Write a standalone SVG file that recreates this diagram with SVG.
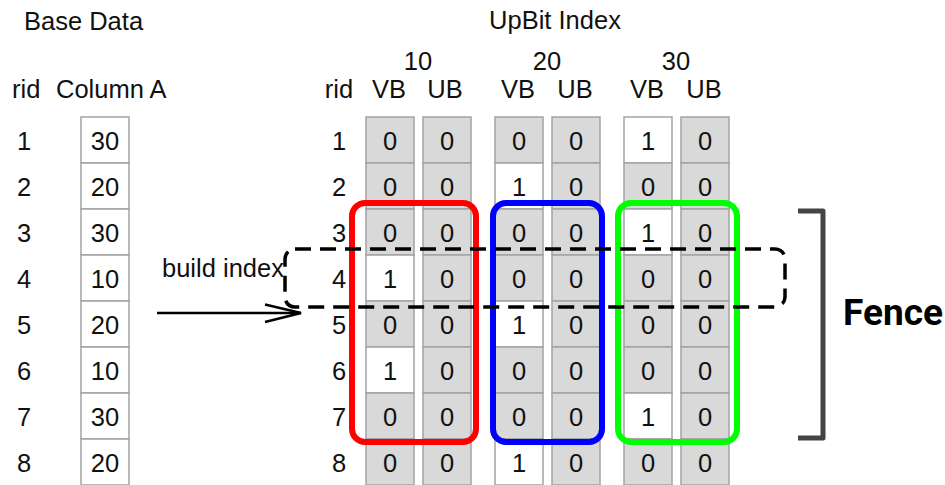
<svg xmlns="http://www.w3.org/2000/svg" width="945" height="485" viewBox="0 0 945 485">
<defs>
<style>
text{font-family:"Liberation Sans",Arial,Helvetica,sans-serif;font-size:25.5px;fill:#111}
.c{text-anchor:middle}
.g{fill:#d9d9d9;stroke:#a3a3a3;stroke-width:1.5}
.w{fill:#fff;stroke:#a3a3a3;stroke-width:1.5}
.box{fill:none;stroke-width:6}
.fence{font-family:Roboto,"Liberation Sans",sans-serif;font-weight:bold;font-size:37px;fill:#000}
</style>
</defs>
<rect width="945" height="485" fill="#fff"/>

<g id="base-data">
<text x="24" y="30">Base Data</text>
<text x="12" y="98">rid</text>
<text x="56" y="98">Column A</text>
<g class="c">
<text x="24" y="150">1</text><text x="24" y="196">2</text><text x="24" y="242">3</text><text x="24" y="288">4</text>
<text x="24" y="334">5</text><text x="24" y="380">6</text><text x="24" y="426">7</text><text x="24" y="472">8</text>
</g>
<rect class="w" x="81" y="117" width="48" height="46"/><rect class="w" x="81" y="163" width="48" height="46"/>
<rect class="w" x="81" y="209" width="48" height="46"/><rect class="w" x="81" y="255" width="48" height="46"/>
<rect class="w" x="81" y="301" width="48" height="46"/><rect class="w" x="81" y="347" width="48" height="46"/>
<rect class="w" x="81" y="393" width="48" height="46"/><rect class="w" x="81" y="439" width="48" height="46"/>
<g class="c">
<text x="105" y="150">30</text><text x="105" y="196">20</text><text x="105" y="242">30</text><text x="105" y="288">10</text>
<text x="105" y="334">20</text><text x="105" y="380">10</text><text x="105" y="426">30</text><text x="105" y="472">20</text>
</g>
</g>

<g id="upbit-index">
<text class="c" x="555" y="29">UpBit Index</text>
<text class="c" x="418" y="70">10</text>
<text class="c" x="547" y="70">20</text>
<text class="c" x="676" y="70">30</text>
<text class="c" x="339" y="98">rid</text>
<g class="c">
<text x="389" y="98">VB</text><text x="445" y="98">UB</text>
<text x="518" y="98">VB</text><text x="575" y="98">UB</text>
<text x="647" y="98">VB</text><text x="704" y="98">UB</text>
</g>
<g class="c">
<text x="339" y="150">1</text><text x="339" y="196">2</text><text x="339" y="242">3</text><text x="339" y="288">4</text>
<text x="339" y="334">5</text><text x="339" y="380">6</text><text x="339" y="426">7</text><text x="339" y="472">8</text>
</g>
</g>

<g id="col-10-vb">
<rect class="g" x="366" y="117" width="48" height="46"/><rect class="g" x="366" y="163" width="48" height="46"/>
<rect class="g" x="366" y="209" width="48" height="46"/><rect class="w" x="366" y="255" width="48" height="46"/>
<rect class="g" x="366" y="301" width="48" height="46"/><rect class="w" x="366" y="347" width="48" height="46"/>
<rect class="g" x="366" y="393" width="48" height="46"/><rect class="g" x="366" y="439" width="48" height="46"/>
<g class="c">
<text x="390" y="150">0</text><text x="390" y="196">0</text><text x="390" y="242">0</text><text x="390" y="288">1</text>
<text x="390" y="334">0</text><text x="390" y="380">1</text><text x="390" y="426">0</text><text x="390" y="472">0</text>
</g>
</g>
<g id="col-10-ub">
<rect class="g" x="423" y="117" width="48" height="46"/><rect class="g" x="423" y="163" width="48" height="46"/>
<rect class="g" x="423" y="209" width="48" height="46"/><rect class="g" x="423" y="255" width="48" height="46"/>
<rect class="g" x="423" y="301" width="48" height="46"/><rect class="g" x="423" y="347" width="48" height="46"/>
<rect class="g" x="423" y="393" width="48" height="46"/><rect class="g" x="423" y="439" width="48" height="46"/>
<g class="c">
<text x="447" y="150">0</text><text x="447" y="196">0</text><text x="447" y="242">0</text><text x="447" y="288">0</text>
<text x="447" y="334">0</text><text x="447" y="380">0</text><text x="447" y="426">0</text><text x="447" y="472">0</text>
</g>
</g>
<g id="col-20-vb">
<rect class="g" x="495" y="117" width="48" height="46"/><rect class="w" x="495" y="163" width="48" height="46"/>
<rect class="g" x="495" y="209" width="48" height="46"/><rect class="g" x="495" y="255" width="48" height="46"/>
<rect class="w" x="495" y="301" width="48" height="46"/><rect class="g" x="495" y="347" width="48" height="46"/>
<rect class="g" x="495" y="393" width="48" height="46"/><rect class="w" x="495" y="439" width="48" height="46"/>
<g class="c">
<text x="519" y="150">0</text><text x="519" y="196">1</text><text x="519" y="242">0</text><text x="519" y="288">0</text>
<text x="519" y="334">1</text><text x="519" y="380">0</text><text x="519" y="426">0</text><text x="519" y="472">1</text>
</g>
</g>
<g id="col-20-ub">
<rect class="g" x="552" y="117" width="48" height="46"/><rect class="g" x="552" y="163" width="48" height="46"/>
<rect class="g" x="552" y="209" width="48" height="46"/><rect class="g" x="552" y="255" width="48" height="46"/>
<rect class="g" x="552" y="301" width="48" height="46"/><rect class="g" x="552" y="347" width="48" height="46"/>
<rect class="g" x="552" y="393" width="48" height="46"/><rect class="g" x="552" y="439" width="48" height="46"/>
<g class="c">
<text x="576" y="150">0</text><text x="576" y="196">0</text><text x="576" y="242">0</text><text x="576" y="288">0</text>
<text x="576" y="334">0</text><text x="576" y="380">0</text><text x="576" y="426">0</text><text x="576" y="472">0</text>
</g>
</g>
<g id="col-30-vb">
<rect class="w" x="624" y="117" width="48" height="46"/><rect class="g" x="624" y="163" width="48" height="46"/>
<rect class="w" x="624" y="209" width="48" height="46"/><rect class="g" x="624" y="255" width="48" height="46"/>
<rect class="g" x="624" y="301" width="48" height="46"/><rect class="g" x="624" y="347" width="48" height="46"/>
<rect class="w" x="624" y="393" width="48" height="46"/><rect class="g" x="624" y="439" width="48" height="46"/>
<g class="c">
<text x="648" y="150">1</text><text x="648" y="196">0</text><text x="648" y="242">1</text><text x="648" y="288">0</text>
<text x="648" y="334">0</text><text x="648" y="380">0</text><text x="648" y="426">1</text><text x="648" y="472">0</text>
</g>
</g>
<g id="col-30-ub">
<rect class="g" x="681" y="117" width="48" height="46"/><rect class="g" x="681" y="163" width="48" height="46"/>
<rect class="g" x="681" y="209" width="48" height="46"/><rect class="g" x="681" y="255" width="48" height="46"/>
<rect class="g" x="681" y="301" width="48" height="46"/><rect class="g" x="681" y="347" width="48" height="46"/>
<rect class="g" x="681" y="393" width="48" height="46"/><rect class="g" x="681" y="439" width="48" height="46"/>
<g class="c">
<text x="705" y="150">0</text><text x="705" y="196">0</text><text x="705" y="242">0</text><text x="705" y="288">0</text>
<text x="705" y="334">0</text><text x="705" y="380">0</text><text x="705" y="426">0</text><text x="705" y="472">0</text>
</g>
</g>

<g id="highlight-10"><rect class="box" x="352" y="203" width="124" height="239" rx="13" stroke="#ff0000"/></g>
<g id="highlight-20"><rect class="box" x="493" y="203" width="109" height="239" rx="13" stroke="#0000ff"/></g>
<g id="highlight-30"><rect class="box" x="618" y="203" width="119" height="239" rx="13" stroke="#00ff00"/></g>

<g id="fence-window"><rect x="285" y="249" width="500" height="58" rx="10" fill="none" stroke="#000" stroke-width="3.5" stroke-dasharray="16 9"/></g>

<g id="fence">
<path d="M798 211 H823 V438 H798" fill="none" stroke="#444" stroke-width="5" stroke-linejoin="round"/>
<text class="fence" x="843" y="325">Fence</text>
</g>

<g id="connectors">
<text x="162" y="277">build index</text>
<path d="M157 313 H301" fill="none" stroke="#000" stroke-width="2.5"/>
<path d="M265 304.5 L301 313 L265 322" fill="none" stroke="#000" stroke-width="2.5"/>
</g>
</svg>
